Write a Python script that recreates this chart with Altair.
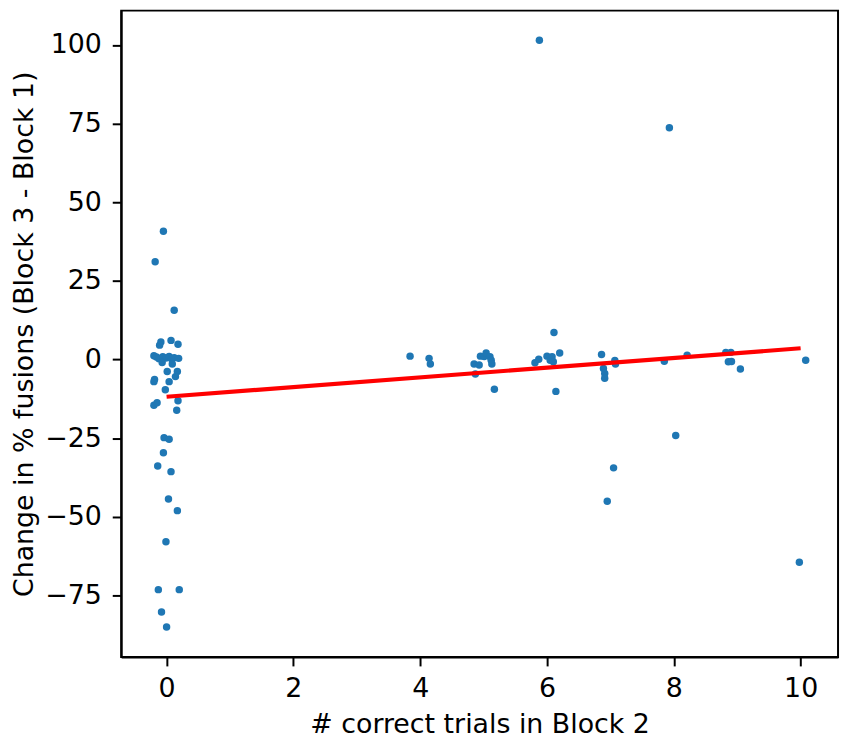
import altair as alt
import pandas as pd

# scatter data: (# correct trials in Block 2, jittered) and change in % fusions
pts_x = [
    -0.05, -0.18, 0.12, 0.07, -0.09, -0.11, 0.18,
    -0.20, -0.16, -0.12, -0.06, -0.01, 0.04, 0.08, 0.12, 0.19,
    -0.07, 0.09, 0.01, 0.17, 0.14, 0.04, -0.20, -0.19, -0.02,
    0.18, 0.16, -0.20, -0.15, -0.04, 0.04, -0.05, -0.14, 0.07,
    0.03, 0.17, -0.01, -0.13, 0.20, -0.08, 0.00,
    3.84, 4.14, 4.16, 4.85, 4.87, 4.93, 4.95, 5.01, 5.04, 5.10, 5.12, 5.13,
    5.17, 5.81, 5.87, 5.88, 6.00, 6.05, 6.08, 6.10, 6.20, 6.11, 6.14,
    6.86, 6.89, 6.91, 6.91, 6.95, 7.05, 7.07, 7.08, 7.85, 7.93, 8.03,
    8.21, 8.82, 8.90, 8.86, 8.91, 9.05, 9.98, 10.08,
]
pts_y = [
    40.8, 31.1, 15.7, 6.1, 5.6, 4.6, 4.9,
    1.2, 0.8, 0.3, 0.9, 0.5, 1.0, 0.2, 0.6, 0.4,
    -0.9, -1.4, -3.8, -3.8, -5.4, -7.0, -7.0, -6.3, -9.6,
    -13.1, -16.1, -14.5, -13.7, -24.8, -25.3, -29.6, -33.8, -35.6,
    -44.3, -48.0, -57.9, -73.1, -73.1, -80.2, -85.0,
    1.1, 0.4, -1.4, -1.4, -4.6, -1.7, 1.1, 1.0, 2.1, 0.9, -0.2, -1.4,
    -9.4, -1.0, 0.1, 101.5, 1.1, -0.2, 0.9, -0.7, 2.1, 8.6, -10.1,
    1.6, -2.8, -4.4, -5.9, -45.0, -34.4, -0.3, -1.4, -0.5, 73.7, -24.1,
    1.4, 2.3, 2.3, -0.7, -0.6, -3.0, -64.4, -0.2,
]

# fitted regression line end points
fit_x = [0, 10]
fit_y = [-11.8, 3.6]

x_ticks = [0, 2, 4, 6, 8, 10]
y_ticks = [-75, -50, -25, 0, 25, 50, 75, 100]

pts = pd.DataFrame({"x": pts_x, "y": pts_y})
fit = pd.DataFrame({"x": fit_x, "y": fit_y})

W, H = 722, 651
FONT = "DejaVu Sans"
FS = 27

xs = alt.Scale(domain=[-0.716, 10.59], nice=False, zero=False)
ys = alt.Scale(domain=[-94.5, 110.9], nice=False, zero=False)

x_axis = alt.Axis(
    values=x_ticks, grid=False, title="# correct trials in Block 2",
    titleX=W / 2, titleY=76, titleAlign="center", titleBaseline="alphabetic",
    labelPadding=10,
)
y_axis = alt.Axis(
    values=y_ticks, grid=False, title="Change in % fusions (Block 3 - Block 1)",
    titleX=-89.5, titleY=H / 2, titleAlign="center", titleBaseline="alphabetic",
    labelPadding=11,
)

points = alt.Chart(pts).mark_circle(size=56, color="#1f77b4", opacity=1).encode(
    x=alt.X("x:Q", scale=xs, axis=x_axis),
    y=alt.Y("y:Q", scale=ys, axis=y_axis),
)

line = alt.Chart(fit).mark_line(color="#ff0000", strokeWidth=4.2).encode(
    x=alt.X("x:Q", scale=xs, axis=x_axis),
    y=alt.Y("y:Q", scale=ys, axis=y_axis),
)

chart = (
    alt.layer(points, line)
    .properties(
        width=W, height=H,
        autosize=alt.AutoSizeParams(type="none"),
        padding={"left": 114, "top": 0, "right": 5, "bottom": 84},
    )
    .configure_view(stroke="black", strokeWidth=2)
    .configure_axis(
        labelFont=FONT, titleFont=FONT, labelFontSize=FS, titleFontSize=FS,
        titleFontWeight="normal", labelColor="black", titleColor="black",
        domainColor="black", domainWidth=2, tickColor="black", tickWidth=2,
        tickSize=9,
    )
)

chart.save("out.html", embed_options={"renderer": "svg", "actions": False})
